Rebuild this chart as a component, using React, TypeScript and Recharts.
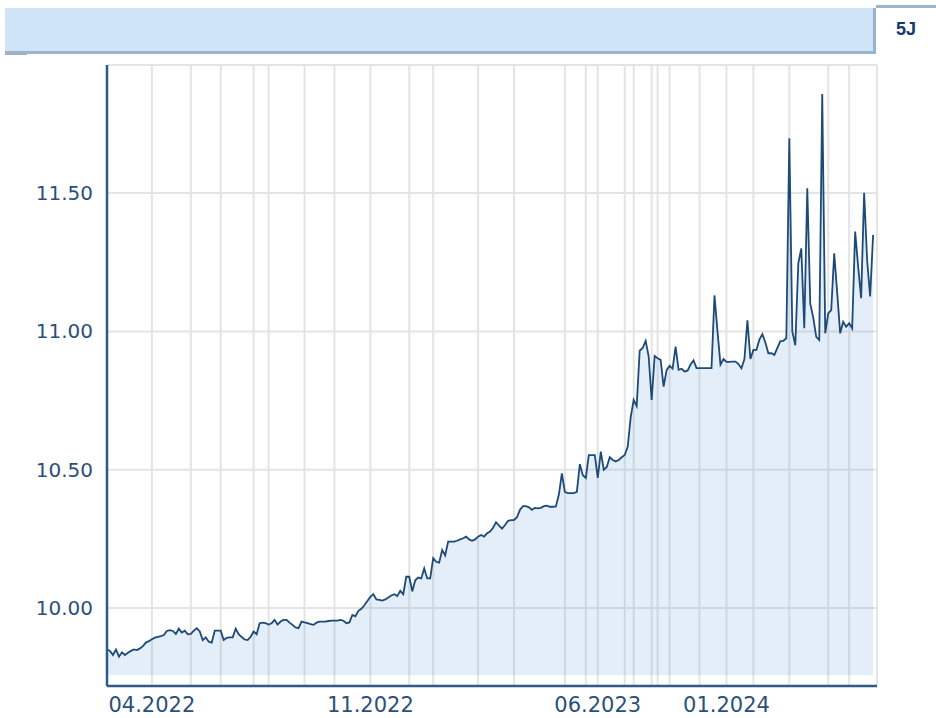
import React from "react";
import { ComposedChart, Area, XAxis, YAxis, CartesianGrid } from "recharts";

const monthLabels = [
  "03.2022", "04.2022", "05.2022", "06.2022", "07.2022", "08.2022", "09.2022",
  "10.2022", "11.2022", "12.2022", "01.2023", "02.2023", "03.2023", "04.2023",
  "05.2023", "06.2023", "07.2023", "08.2023", "09.2023", "10.2023", "11.2023",
  "12.2023", "01.2024", "02.2024", "03.2024", "04.2024", "05.2024",
];

const shownLabels = ["04.2022", "11.2022", "06.2023", "01.2024"];

const yTicks = [10.0, 10.5, 11.0, 11.5];

// one inner array of closing values per month
const monthlyPrices: number[][] = [
  [9.85, 9.845, 9.83, 9.85, 9.824, 9.84, 9.83, 9.838, 9.845, 9.85, 9.848, 9.854, 9.862, 9.875, 9.88],
  [9.887, 9.893, 9.896, 9.898, 9.902, 9.917, 9.92, 9.917, 9.906, 9.925, 9.911, 9.918, 9.905],
  [9.906, 9.918, 9.927, 9.915, 9.884, 9.894, 9.878, 9.875, 9.918, 9.918],
  [9.918, 9.884, 9.892, 9.894, 9.894, 9.925, 9.905, 9.895, 9.886, 9.884, 9.896],
  [9.915, 9.905, 9.945, 9.947, 9.945],
  [9.94, 9.945, 9.957, 9.94, 9.951, 9.957, 9.957, 9.947, 9.939, 9.93, 9.927, 9.951],
  [9.948, 9.945, 9.942, 9.939, 9.947, 9.951, 9.951, 9.951, 9.953, 9.954],
  [9.954, 9.954, 9.957, 9.954, 9.945, 9.948, 9.975, 9.97, 9.99, 9.997, 10.01, 10.025],
  [10.04, 10.05, 10.031, 10.029, 10.027, 10.031, 10.038, 10.045, 10.05, 10.043, 10.062, 10.05, 10.113],
  [10.113, 10.06, 10.1, 10.11, 10.107, 10.143, 10.107, 10.107],
  [10.18, 10.167, 10.164, 10.21, 10.19, 10.24, 10.24, 10.24, 10.243, 10.248, 10.252, 10.258, 10.248, 10.243, 10.248],
  [10.258, 10.264, 10.258, 10.27, 10.276, 10.29, 10.31, 10.298, 10.287, 10.3, 10.315, 10.318],
  [10.318, 10.328, 10.355, 10.368, 10.368, 10.364, 10.355, 10.362, 10.36, 10.362, 10.368, 10.37, 10.366, 10.366, 10.367, 10.41, 10.487],
  [10.42, 10.415, 10.415, 10.415, 10.42, 10.52, 10.48],
  [10.47, 10.553, 10.553, 10.553],
  [10.47, 10.565, 10.5, 10.51, 10.545, 10.535, 10.53, 10.535, 10.545],
  [10.553, 10.583, 10.69],
  [10.752, 10.73, 10.93, 10.94, 10.966, 10.91],
  [10.752, 10.911],
  [10.903, 10.897, 10.8, 10.86],
  [10.875, 10.865, 10.945, 10.861, 10.865, 10.855, 10.858, 10.88, 10.895, 10.867],
  [10.867, 10.867, 10.867, 10.867, 10.867, 11.13, 11.0, 10.88, 10.9],
  [10.89, 10.89, 10.891, 10.891, 10.882, 10.867, 10.9, 11.04, 10.9],
  [10.933, 10.933, 10.97, 10.99, 10.96, 10.921, 10.921, 10.915, 10.94, 10.965, 10.966, 10.975],
  [11.698, 11.0, 10.95, 11.246, 11.3, 11.011, 11.517, 11.1, 11.05, 10.98, 10.969, 11.858, 10.993],
  [11.065, 11.077, 11.282, 11.14, 10.993, 11.035, 11.017],
  [11.029, 11.011, 11.361, 11.234, 11.12, 11.501, 11.258, 11.126, 11.349],
];

type Row = { i: number; month: string; price: number };
const data: Row[] = [];
const monthStarts: number[] = [];
monthlyPrices.forEach((arr, m) => {
  monthStarts.push(data.length);
  arr.forEach((v) => data.push({ i: data.length, month: monthLabels[m], price: v }));
});
const gridTicks = monthStarts.slice(1);

const tickLabel = (v: number) => {
  const idx = monthStarts.indexOf(v);
  const lab = monthLabels[idx];
  return shownLabels.includes(lab) ? lab : "";
};

const axisColor = "#2e5a88";
const labelColor = "#2b5079";

export default function App() {
  return (
    <div style={{ position: "absolute", left: 0, top: 0, width: 936, height: 718, background: "#fff", overflow: "hidden" }}>
      <div
        style={{
          position: "absolute",
          left: 5,
          top: 8,
          width: 868,
          height: 43,
          background: "#cfe4f7",
          borderRight: "3px solid #9bb4cd",
          borderBottom: "3px solid #9bb4cd",
        }}
      />
      <div style={{ position: "absolute", left: 5, top: 53, width: 22, height: 2, background: "#9fb2c4" }} />
      <div
        style={{
          position: "absolute",
          left: 876,
          top: 5,
          width: 60,
          height: 42,
          borderTop: "3px solid #9bb4cd",
          background: "#fff",
          display: "flex",
          alignItems: "center",
          justifyContent: "center",
          fontFamily: "Liberation Sans, Arial, sans-serif",
          fontWeight: 700,
          fontSize: 18,
          color: "#123a6b",
        }}
      >
        5J
      </div>
      <div style={{ position: "absolute", left: 0, top: 0 }}>
        <ComposedChart width={936} height={718} data={data} margin={{ top: 65, right: 59, bottom: 0, left: 47 }}>
          <CartesianGrid stroke="#e4e4e4" strokeWidth={2} xAxisId={0} yAxisId={0} />
          <XAxis
            type="number"
            dataKey="i"
            domain={[0, 257.3]}
            allowDataOverflow
            ticks={gridTicks}
            interval={0}
            tickFormatter={tickLabel}
            tickLine={false}
            tickSize={0}
            tickMargin={11}
            height={32}
            axisLine={{ stroke: axisColor, strokeWidth: 2.5 }}
            tick={{ fill: labelColor, fontSize: 21, fontFamily: "DejaVu Sans" }}
          />
          <YAxis
            type="number"
            domain={[9.718, 11.963]}
            allowDataOverflow
            ticks={yTicks}
            interval={0}
            width={60}
            tickFormatter={(v: number) => v.toFixed(2)}
            tickLine={false}
            tickSize={0}
            tickMargin={14}
            axisLine={{ stroke: axisColor, strokeWidth: 2.5 }}
            tick={{ fill: labelColor, fontSize: 20, fontFamily: "DejaVu Sans" }}
          />
          <Area
            type="linear"
            dataKey="price"
            stroke="#1d4a78"
            strokeWidth={1.8}
            fill="#4a90d9"
            fillOpacity={0.15}
            baseValue={9.758}
            dot={false}
            activeDot={false}
            isAnimationActive={false}
          />
        </ComposedChart>
      </div>
    </div>
  );
}
